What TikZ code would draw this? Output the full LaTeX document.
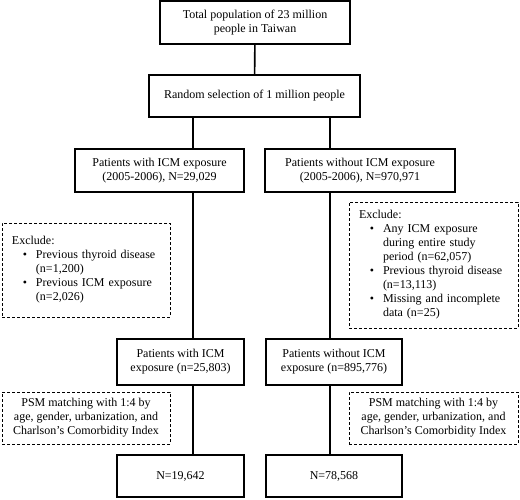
\documentclass[tikz,border=0pt]{standalone}
\usepackage{fontspec}
\setmainfont{Liberation Serif}
\usepackage{enumitem}
\usetikzlibrary{positioning}
\setlist[itemize]{leftmargin=24pt, labelsep=9pt, itemsep=0pt, topsep=0pt, parsep=0pt, partopsep=0pt}

\begin{document}
\begin{tikzpicture}[x=1pt, y=1pt,
  every node/.style={font=\fontsize{12}{14}\selectfont},
  box/.style={draw, line width=1.1pt, align=center, inner sep=0pt},
  exclbox/.style={draw, line width=0.7pt, dash pattern=on 3pt off 2pt, inner xsep=10pt, inner ysep=0pt},
  link/.style={line width=1.6pt}]
\useasboundingbox (0,0) rectangle (520,-499);
% main column
\node[box, minimum width=190, minimum height=43] (total) at (255,-22.5) {Total population of 23 million\\people in Taiwan};
\node[box, minimum width=211, minimum height=42] (random) at (254.5,-96) {Random selection of 1 million people};
\node[box, minimum width=169, minimum height=43] (withA) at (159.5,-170.5) {Patients with ICM exposure\\(2005-2006), N=29,029};
\node[box, minimum width=190, minimum height=43] (withoutA) at (360,-170.5) {Patients without ICM exposure\\(2005-2006), N=970,971};
\node[box, minimum width=127, minimum height=46] (withB) at (180.5,-362) {Patients with ICM\\exposure (n=25,803)};
\node[box, minimum width=136, minimum height=46] (withoutB) at (334,-362) {Patients without ICM\\exposure (n=895,776)};
\node[box, minimum width=127, minimum height=42] (finalL) at (180.5,-476) {N=19,642};
\node[box, minimum width=136, minimum height=42] (finalR) at (334,-476) {N=78,568};
% exclusions
\node[exclbox, text width=148, minimum height=94, align=left] (exclL) at (86,-270) {Exclude:
  \begin{itemize}
  \item Previous thyroid disease\\(n=1,200)
  \item Previous ICM exposure\\(n=2,026)
  \end{itemize}};
\node[exclbox, text width=149, minimum height=126, align=left] (exclR) at (433.5,-265) {Exclude:
  \begin{itemize}
  \item Any ICM exposure\\during entire study\\period (n=62,057)
  \item Previous thyroid disease\\(n=13,113)
  \item Missing and incomplete\\data (n=25)
  \end{itemize}};
% matching
\node[exclbox, minimum width=168, minimum height=52, inner xsep=0pt, align=center] (psmL) at (86,-418) {PSM matching with 1:4 by\\age, gender, urbanization, and\\Charlson's Comorbidity Index};
\node[exclbox, minimum width=169, minimum height=52, inner xsep=0pt, align=center] (psmR) at (433.5,-418) {PSM matching with 1:4 by\\age, gender, urbanization, and\\Charlson's Comorbidity Index};
% connectors
\coordinate (colL) at (193,0);
\coordinate (colR) at (330,0);
\draw[link] (total) -- (random);
\draw[link] (random.south -| colL) -- (withA.north -| colL);
\draw[link] (random.south -| colR) -- (withoutA.north -| colR);
\draw[link] (withA.south -| colL) -- (withB.north -| colL);
\draw[link] (withoutA.south -| colR) -- (withoutB.north -| colR);
\draw[link] (withB.south -| colL) -- (finalL.north -| colL);
\draw[link] (withoutB.south -| colR) -- (finalR.north -| colR);
\end{tikzpicture}
\end{document}
